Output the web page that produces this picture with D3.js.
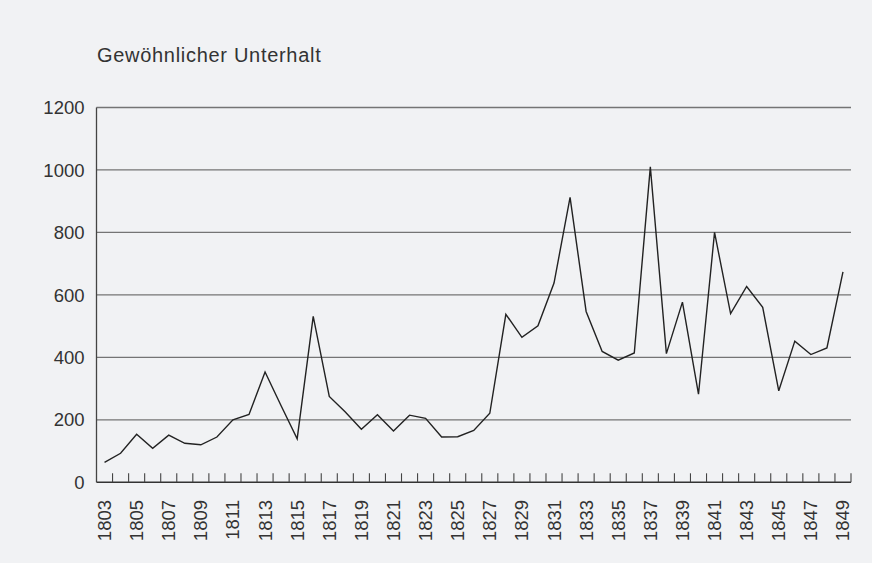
<!DOCTYPE html>
<html>
<head>
<meta charset="utf-8">
<script src="https://cdn.jsdelivr.net/npm/d3@7"></script>
<style>
  body { margin: 0; background: #f1f2f4; }
  svg { display: block; }
  text { font-family: "Liberation Sans", Arial, sans-serif; fill: #333; }
</style>
</head>
<body>
<svg width="872" height="563"></svg>
<script>
// data
const years = d3.range(1803, 1850);
const unterhalt = [64, 93, 154, 109, 151, 125, 120, 145, 200, 217,
                   353, 245, 139, 531, 275, 225, 170, 216, 164, 215,
                   205, 145, 146, 166, 221, 538, 464, 501, 638, 912,
                   547, 419, 391, 414, 1010, 412, 577, 282, 800, 540,
                   627, 560, 293, 452, 409, 430, 674];
const yTicks = [0, 200, 400, 600, 800, 1000, 1200];
const yearLabels = [1803, 1805, 1807, 1809, 1811, 1813, 1815, 1817, 1819, 1821,
                    1823, 1825, 1827, 1829, 1831, 1833, 1835, 1837, 1839, 1841,
                    1843, 1845, 1847, 1849];
const title = "Gewöhnlicher Unterhalt";

const plotLeft = 96.5, plotRight = 851, plotTop = 107.5, plotBottom = 482.3;

const svg = d3.select("svg");
svg.append("rect").attr("width", 872).attr("height", 563).attr("fill", "#f1f2f4");

const x = d3.scaleBand().domain(years).range([plotLeft, plotRight]).padding(0);
const y = d3.scaleLinear().domain([0, 1200]).range([plotBottom, plotTop]);
const bw = x.bandwidth();

// title
svg.append("text")
   .attr("x", 97).attr("y", 61.5)
   .style("font-size", "20px")
   .style("letter-spacing", "0.7px")
   .text(title);

// gridlines
svg.append("g")
   .selectAll("line")
   .data(yTicks.filter(d => d > 0))
   .enter()
   .append("line")
   .attr("x1", plotLeft).attr("x2", plotRight)
   .attr("y1", d => y(d)).attr("y2", d => y(d))
   .attr("stroke", "#747474")
   .attr("stroke-width", 1.3);

// y labels
svg.append("g")
   .selectAll("text")
   .data(yTicks)
   .enter()
   .append("text")
   .attr("x", 84.5)
   .attr("y", d => y(d))
   .attr("dy", "0.36em")
   .attr("text-anchor", "end")
   .style("font-size", "18.5px")
   .text(d => d);

// y axis line
svg.append("line")
   .attr("x1", plotLeft).attr("x2", plotLeft)
   .attr("y1", y(1200)).attr("y2", y(0))
   .attr("stroke", "#444").attr("stroke-width", 1.3);

// x axis baseline + ticks
svg.append("line")
   .attr("x1", plotLeft).attr("x2", plotRight)
   .attr("y1", y(0)).attr("y2", y(0))
   .attr("stroke", "#333").attr("stroke-width", 1.4);

svg.append("g")
   .selectAll("line")
   .data(years)
   .enter()
   .append("line")
   .attr("x1", d => x(d) + bw).attr("x2", d => x(d) + bw)
   .attr("y1", y(0) - 9).attr("y2", y(0))
   .attr("stroke", "#444").attr("stroke-width", 1.1);

// year labels
svg.append("g")
   .selectAll("text")
   .data(yearLabels)
   .enter()
   .append("text")
   .attr("transform", d => `translate(${x(d) + bw / 2 + 6.5},${500}) rotate(-90)`)
   .attr("text-anchor", "end")
   .style("font-size", "18.5px")
   .text(d => d);

// the line
const line = d3.line()
   .x((d, i) => x(years[i]) + bw / 2)
   .y(d => y(d));

svg.append("path")
   .datum(unterhalt)
   .attr("d", line)
   .attr("fill", "none")
   .attr("stroke", "#222")
   .attr("stroke-width", 1.4)
   .attr("stroke-linejoin", "miter");
</script>
</body>
</html>
